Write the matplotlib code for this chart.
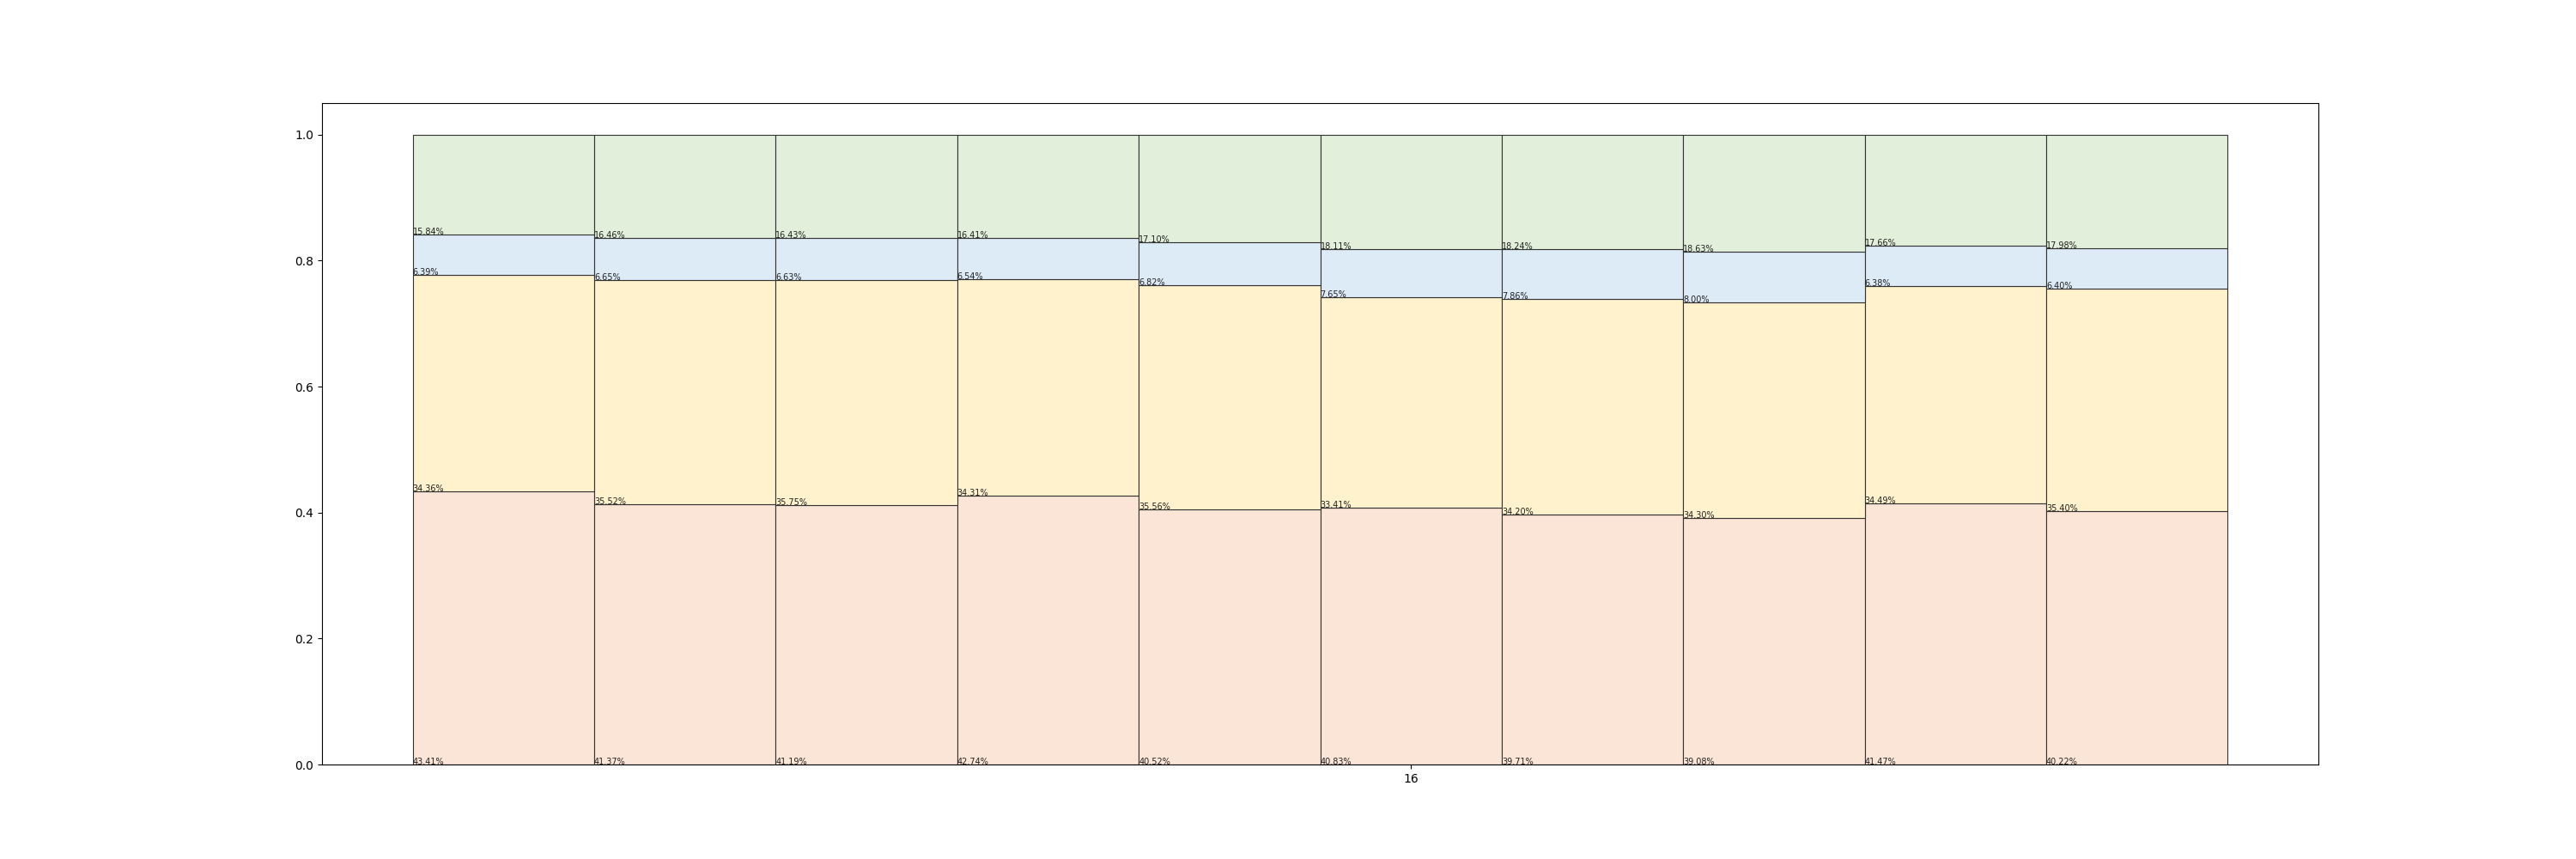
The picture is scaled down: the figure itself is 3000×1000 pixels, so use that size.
import matplotlib
matplotlib.use('Agg')
import matplotlib.pyplot as plt
import numpy as np

# 各组占比 (%)，自下而上四层
positions = [11, 12, 13, 14, 15, 16, 17, 18, 19, 20]
seg1 = [43.41, 41.37, 41.19, 42.74, 40.52, 40.83, 39.71, 39.08, 41.47, 40.22]
seg2 = [34.36, 35.52, 35.75, 34.31, 35.56, 33.41, 34.20, 34.30, 34.49, 35.40]
seg3 = [6.39, 6.65, 6.63, 6.54, 6.82, 7.65, 7.86, 8.00, 6.38, 6.40]
seg4 = [15.84, 16.46, 16.43, 16.41, 17.10, 18.11, 18.24, 18.63, 17.66, 17.98]
xtick_values = [16]

colors = ['#FBE5D6', '#FFF2CC', '#DDEBF7', '#E2EFDA']

fig, ax = plt.subplots(figsize=(30, 10), dpi=100)

x = np.array(positions)
bottom = np.zeros(len(x))
for vals, c in zip([seg1, seg2, seg3, seg4], colors):
    frac = np.array(vals) / 100.0
    ax.bar(x, frac, width=1.0, bottom=bottom, color=c,
           edgecolor='#333333', linewidth=0.8)
    for xi, b, v in zip(x, bottom, vals):
        ax.text(xi - 0.5, b, f'{v:.2f}%', fontsize=7, color='#222222',
                ha='left', va='baseline')
    bottom = bottom + frac

ax.set_xticks(xtick_values)
ax.set_xticklabels([str(v) for v in xtick_values])

plt.savefig('out.png', dpi=100)
